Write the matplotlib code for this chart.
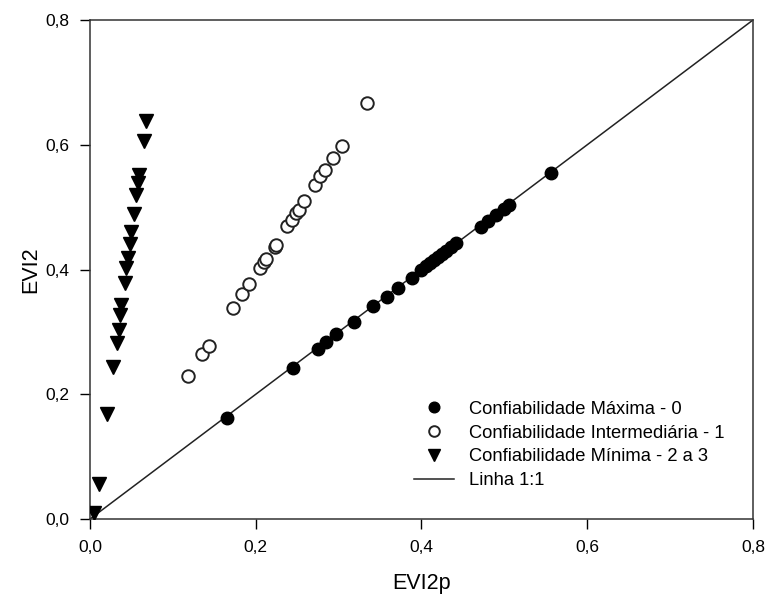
import matplotlib
matplotlib.use("Agg")
import matplotlib.pyplot as plt

plt.rcParams['font.family'] = ['Liberation Sans', 'DejaVu Sans']

# Confiabilidade Máxima - 0
max_x = [0.165, 0.245, 0.275, 0.285, 0.297, 0.318, 0.342, 0.358, 0.372, 0.388,
         0.400, 0.405, 0.410, 0.415, 0.420, 0.425, 0.430, 0.436, 0.442,
         0.472, 0.480, 0.490, 0.500, 0.505, 0.556]
max_y = [0.162, 0.242, 0.272, 0.283, 0.296, 0.316, 0.341, 0.356, 0.370, 0.386,
         0.400, 0.405, 0.410, 0.415, 0.420, 0.425, 0.430, 0.436, 0.442,
         0.468, 0.478, 0.487, 0.497, 0.503, 0.554]

# Confiabilidade Intermediária - 1
int_x = [0.118, 0.135, 0.143, 0.173, 0.184, 0.192, 0.205, 0.210, 0.212, 0.223,
         0.224, 0.238, 0.244, 0.248, 0.252, 0.258, 0.272, 0.278, 0.283, 0.293,
         0.304, 0.334]
int_y = [0.229, 0.264, 0.277, 0.339, 0.361, 0.377, 0.403, 0.412, 0.417, 0.436,
         0.440, 0.470, 0.480, 0.490, 0.496, 0.510, 0.536, 0.550, 0.559, 0.579,
         0.598, 0.667]

# Confiabilidade Mínima - 2 a 3
min_x = [0.005, 0.011, 0.021, 0.028, 0.032, 0.035, 0.036, 0.038, 0.042, 0.044,
         0.046, 0.048, 0.050, 0.053, 0.056, 0.058, 0.059, 0.065, 0.068]
min_y = [0.010, 0.056, 0.168, 0.244, 0.282, 0.303, 0.327, 0.343, 0.378, 0.402,
         0.419, 0.441, 0.460, 0.489, 0.519, 0.538, 0.551, 0.606, 0.638]

line_xy = [0.0, 0.8]
ticks = [0.0, 0.2, 0.4, 0.6, 0.8]
tick_labels = ['0,0', '0,2', '0,4', '0,6', '0,8']

fig = plt.figure(figsize=(7.66, 6.01), dpi=100)
ax = fig.add_axes([0.1175, 0.1364, 0.8655, 0.8303])

ax.plot(max_x, max_y, 'o', color='black', markersize=9, linestyle='none',
        label='Confiabilidade Máxima - 0', zorder=3)
ax.plot(int_x, int_y, 'o', markerfacecolor='white', markeredgecolor='#222222',
        markeredgewidth=1.4, markersize=9, linestyle='none',
        label='Confiabilidade Intermediária - 1', zorder=3)
ax.plot(min_x, min_y, 'v', color='black', markersize=10, linestyle='none',
        label='Confiabilidade Mínima - 2 a 3', zorder=3)
ax.plot(line_xy, line_xy, '-', color='#222222', linewidth=1.1,
        label='Linha 1:1', zorder=2)

ax.set_xlim(0, 0.8)
ax.set_ylim(0, 0.8)
ax.set_xticks(ticks)
ax.set_yticks(ticks)
ax.set_xticklabels(tick_labels, fontsize=12.5)
ax.set_yticklabels(tick_labels, fontsize=12.5)
ax.tick_params(direction='out', length=7, width=1, top=False, right=False, pad=8)
for s in ax.spines.values():
    s.set_linewidth(1.1)
    s.set_color('#333333')

ax.set_xlabel('EVI2p', fontsize=15.5, labelpad=13)
ax.set_ylabel('EVI2', fontsize=15.5, labelpad=3)

leg = ax.legend(loc='upper left', bbox_to_anchor=(0.488, 0.237), frameon=False,
                fontsize=13.2, handlelength=2.2, handletextpad=0.8,
                labelspacing=0.37, borderpad=0, borderaxespad=0,
                markerscale=0.85)

fig.savefig('out.png', dpi=100)
